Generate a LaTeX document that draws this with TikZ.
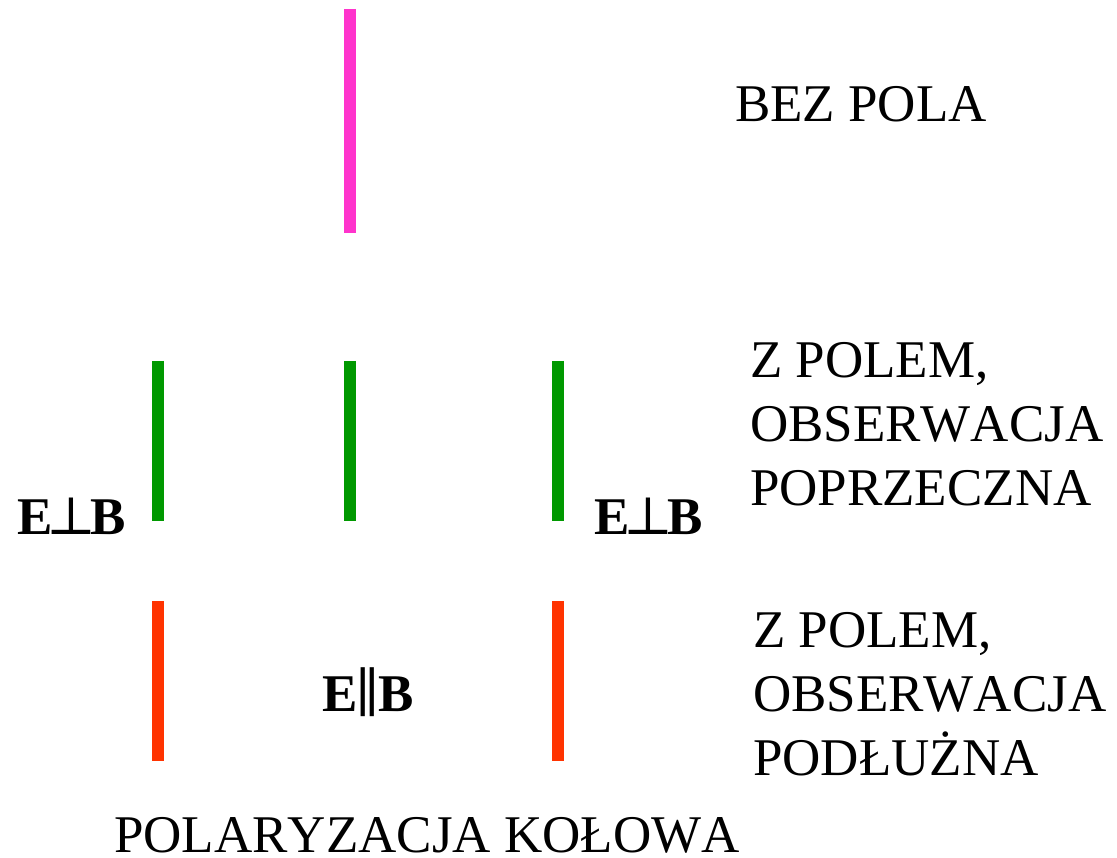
\documentclass[tikz,border=0pt]{standalone}
\usepackage{fontspec}
\setmainfont[Kerning=Off]{Liberation Serif}
\newfontfamily\znaki{DejaVu Serif}
\usetikzlibrary{positioning}

\definecolor{bezpole}{RGB}{255,51,204}
\definecolor{poprzeczne}{RGB}{0,153,0}
\definecolor{podluzne}{RGB}{255,51,0}

\begin{document}
\begin{tikzpicture}[x=1pt, y=-1pt, line width=12pt,
    opis/.style={inner sep=0pt, outer sep=0pt, anchor=base west, align=left, font=\fontsize{53}{64}\selectfont},
    pole/.style={inner sep=0pt, outer sep=0pt, anchor=base west, font=\fontsize{53}{64}\selectfont\bfseries}]
  \useasboundingbox (0,0) rectangle (1117,858);

  % linie widmowe
  \draw[bezpole] (349.5,9) -- (349.5,233);
  \foreach \x in {157.5,349.5,557.5}
    \draw[poprzeczne] (\x,361) -- (\x,521);
  \foreach \x in {157.5,557.5}
    \draw[podluzne] (\x,601) -- (\x,761);

  % opisy (kotwica na linii bazowej ostatniego wiersza)
  \node[opis] (bez)    at (735,122) {BEZ POLA};
  \node[opis] (poprz)  at (750,505) {Z POLEM,\\OBSERWACJA\\POPRZECZNA};
  \node[opis] (podl)   at (753,775) {Z POLEM,\\OBSERWACJA\\PODŁUŻNA};
  \node[opis] (kolowa) at (114,852) {POLARYZACJA KOŁOWA};

  \node[pole] (perpL) at (17,534)  {E\kern-6pt{\znaki\mdseries ⊥}\kern-6pt B};
  \node[pole] (perpR) at (594,534) {E\kern-6pt{\znaki\mdseries ⊥}\kern-6pt B};
  \node[pole] (par)   at (322,711) {E\kern-1.5pt{\znaki\mdseries ∥}\kern-1.5pt B};
\end{tikzpicture}
\end{document}
